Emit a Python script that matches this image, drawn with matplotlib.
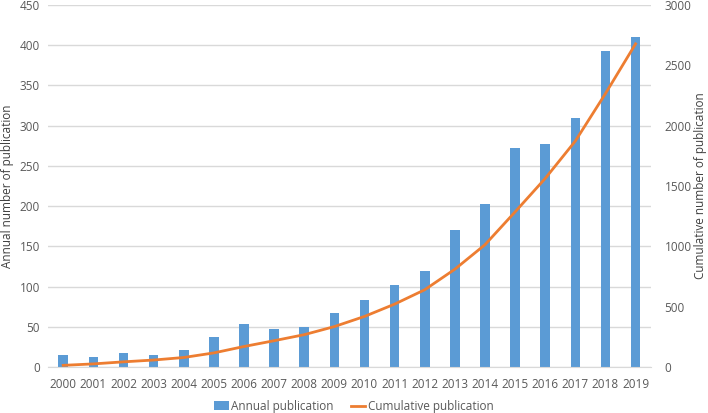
import matplotlib.pyplot as plt
import numpy as np

plt.rcParams["font.family"] = ["Open Sans", "DejaVu Sans"]

YEARS = [str(y) for y in range(2000, 2020)]
ANNUAL = [15, 12, 17, 15, 21, 38, 53, 48, 50, 67, 84, 102, 119, 170, 203, 272, 277, 310, 393, 410]
CUMULATIVE = [15, 27, 44, 59, 80, 118, 171, 219, 269, 336, 420, 522, 641, 811, 1014, 1286, 1563, 1873, 2266, 2678]

BAR_COLOR = "#5B9BD5"
LINE_COLOR = "#ED7D31"
TEXT_COLOR = "#595959"
GRID_COLOR = "#D9D9D9"


def main():
    fig = plt.figure(figsize=(7.08, 4.13), dpi=100)
    ax = fig.add_axes([0.068, 0.111, 0.851, 0.877])
    ax2 = ax.twinx()

    x = np.arange(len(YEARS))
    bars = ax.bar(x, ANNUAL, width=0.32, color=BAR_COLOR, zorder=2, label="Annual publication")
    line, = ax2.plot(x, CUMULATIVE, color=LINE_COLOR, linewidth=2, zorder=3, label="Cumulative publication")

    ax.set_xlim(-0.5, len(YEARS) - 0.5)
    ax.set_ylim(0, 450)
    ax.set_yticks(range(0, 451, 50))
    ax2.set_ylim(0, 3000)
    ax2.set_yticks(range(0, 3001, 500))
    ax.set_xticks(x)
    ax.set_xticklabels(YEARS)

    ax.yaxis.grid(True, color=GRID_COLOR, linewidth=1)
    ax.set_axisbelow(True)
    ax.patch.set_visible(False)
    ax2.patch.set_visible(False)
    # line above the bars
    ax.set_zorder(0)
    ax2.set_zorder(1)

    for a in (ax, ax2):
        for side in ("top", "left", "right", "bottom"):
            a.spines[side].set_visible(False)
        a.tick_params(length=0, labelsize=8.5, colors=TEXT_COLOR)
    ax.spines["bottom"].set_visible(True)
    ax.spines["bottom"].set_color(GRID_COLOR)
    ax.tick_params(axis="x", pad=8)
    ax.tick_params(axis="y", pad=6)
    ax2.tick_params(axis="y", pad=10)

    ax.set_ylabel("Annual number of publication", fontsize=8.5, color="#404040", labelpad=4)
    ax2.set_ylabel("Cumulative number of publication", fontsize=8.5, color="#404040", labelpad=2)

    fig.legend(handles=[bars, line], loc="lower center", bbox_to_anchor=(0.5, -0.025), ncol=2,
               frameon=False, fontsize=8.5, labelcolor=TEXT_COLOR, handlelength=1.2,
               handletextpad=0.2, columnspacing=1.5)

    fig.savefig("out.png", dpi=100)


if __name__ == "__main__":
    main()
